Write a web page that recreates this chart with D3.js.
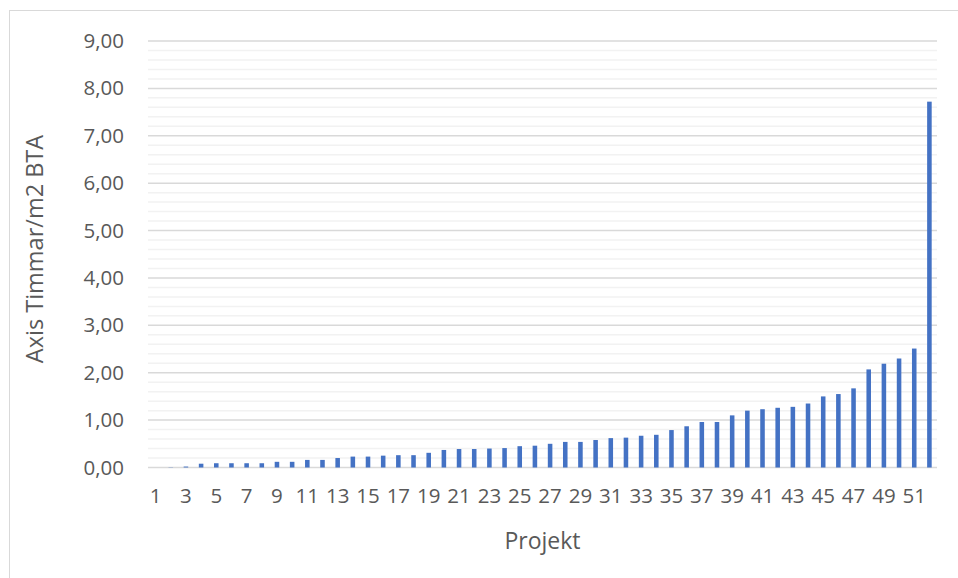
<!DOCTYPE html>
<html>
<head>
<meta charset="utf-8">
<script src="https://cdn.jsdelivr.net/npm/d3@7"></script>
<style>
  html, body { margin: 0; padding: 0; background: #fff; }
  svg { display: block; }
  text { font-family: "Open Sans", "Noto Sans", sans-serif; fill: #595959; }
</style>
</head>
<body>
<svg id="chart" width="958" height="578"></svg>
<script>
// Projects 1..52 and hours per m2 BTA, sorted ascending
const projects = d3.range(1, 53).map(String);
const hoursPerM2 = [
  0.00, 0.005, 0.02, 0.08, 0.09, 0.09, 0.09, 0.09, 0.12, 0.12,
  0.16, 0.16, 0.20, 0.23, 0.23, 0.25, 0.26, 0.26, 0.31, 0.37,
  0.39, 0.39, 0.40, 0.41, 0.45, 0.46, 0.50, 0.54, 0.54, 0.58,
  0.62, 0.63, 0.67, 0.69, 0.79, 0.87, 0.96, 0.96, 1.10, 1.20,
  1.23, 1.26, 1.28, 1.35, 1.50, 1.55, 1.67, 2.07, 2.19, 2.30,
  2.51, 7.72
];
const yTicks = d3.range(0, 10, 1);
const yMinorTicks = d3.range(0, 9.01, 0.2);
const xLabelShown = projects.filter((d, i) => i % 2 === 0);

const svg = d3.select("#chart");

// outer chart frame
svg.append("rect")
  .attr("x", 9.5).attr("y", 10.5)
  .attr("width", 1000).attr("height", 1000)
  .attr("fill", "none").attr("stroke", "#d9d9d9").attr("stroke-width", 1);

const plotLeft = 148, plotRight = 937, plotTop = 41, plotBottom = 467.5;

const x = d3.scaleBand().domain(projects).range([plotLeft, plotRight]).paddingInner(0.7).paddingOuter(0.35);
const y = d3.scaleLinear().domain([0, 9]).range([plotBottom, plotTop]);

// minor gridlines
svg.append("g").selectAll("line")
  .data(yMinorTicks.filter(v => Math.abs(v - Math.round(v)) > 1e-6))
  .join("line")
  .attr("x1", plotLeft).attr("x2", plotRight)
  .attr("y1", d => y(d)).attr("y2", d => y(d))
  .attr("stroke", "#f2f2f2").attr("stroke-width", 1.5);

// major gridlines
svg.append("g").selectAll("line")
  .data(yTicks)
  .join("line")
  .attr("x1", plotLeft).attr("x2", plotRight)
  .attr("y1", d => y(d)).attr("y2", d => y(d))
  .attr("stroke", "#d9d9d9").attr("stroke-width", 1.5);

// bars
svg.append("g").selectAll("rect")
  .data(hoursPerM2)
  .join("rect")
  .attr("x", (d, i) => x(projects[i]))
  .attr("width", x.bandwidth())
  .attr("y", d => y(d))
  .attr("height", d => y(0) - y(d))
  .attr("fill", "#4472c4");

const fmt = v => d3.format(".2f")(v).replace(".", ",");

// y axis labels
const yAxis = d3.axisLeft(y).tickValues(yTicks).tickFormat(fmt).tickSize(0).tickPadding(24);
const gy = svg.append("g").attr("transform", `translate(${plotLeft},0)`).call(yAxis);
gy.select(".domain").remove();
gy.selectAll("text").style("font-size", "20.5px").attr("fill", "#595959")
  .style("font-family", "'Open Sans', sans-serif");

// x axis labels
const xAxis = d3.axisBottom(x).tickValues(xLabelShown).tickSize(0).tickPadding(21);
const gx = svg.append("g").attr("transform", `translate(0,${plotBottom})`).call(xAxis);
gx.select(".domain").remove();
gx.selectAll("text").style("font-size", "20.5px").attr("fill", "#595959")
  .style("font-family", "'Open Sans', sans-serif");

// axis titles
svg.append("text")
  .attr("x", (plotLeft + plotRight) / 2).attr("y", 549)
  .attr("text-anchor", "middle")
  .style("font-size", "23px")
  .text("Projekt");

svg.append("text")
  .attr("transform", `translate(43,249) rotate(-90)`)
  .attr("text-anchor", "middle")
  .style("font-size", "23.5px")
  .text("Axis Timmar/m2 BTA");
</script>
</body>
</html>
